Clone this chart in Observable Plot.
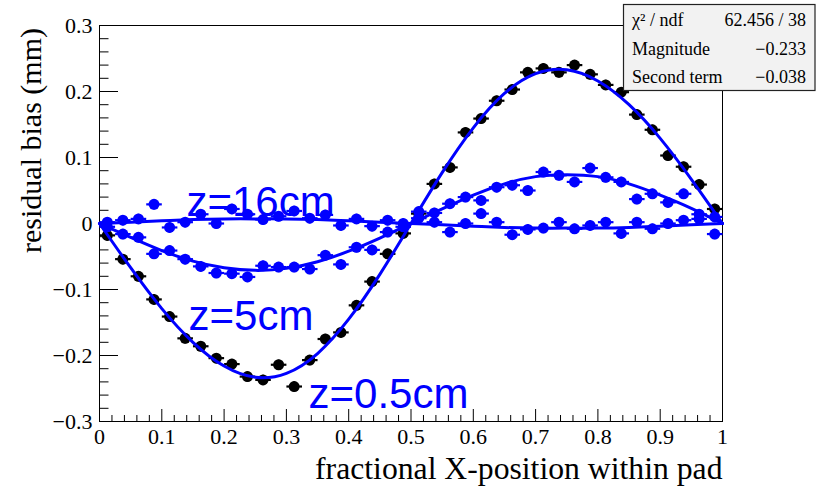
<!DOCTYPE html>
<html><head><meta charset="utf-8">
<script src="https://cdn.jsdelivr.net/npm/d3@7"></script>
<script src="https://cdn.jsdelivr.net/npm/@observablehq/plot@0.6"></script>
<style>body{margin:0;background:#fff;}</style>
</head><body><div id="chart"></div>
<script>
// ---- data ----
const binX = [0.0125,0.0375,0.0625,0.0875,0.1125,0.1375,0.1625,0.1875,0.2125,0.2375,
  0.2625,0.2875,0.3125,0.3375,0.3625,0.3875,0.4125,0.4375,0.4625,0.4875,
  0.5125,0.5375,0.5625,0.5875,0.6125,0.6375,0.6625,0.6875,0.7125,0.7375,
  0.7625,0.7875,0.8125,0.8375,0.8625,0.8875,0.9125,0.9375,0.9625,0.9875];
const biasZ05 = [-0.018,-0.054,-0.080,-0.115,-0.141,-0.174,-0.186,-0.204,-0.213,-0.232,
  -0.237,-0.214,-0.247,-0.207,-0.175,-0.165,-0.124,-0.088,-0.046,-0.015,
  0.015,0.060,0.085,0.138,0.159,0.186,0.203,0.229,0.235,0.229,
  0.240,0.226,0.210,0.199,0.165,0.142,0.103,0.086,0.059,0.022];
const biasZ5 = [-0.005,-0.016,-0.021,-0.046,-0.041,-0.054,-0.065,-0.075,-0.076,-0.081,
  -0.064,-0.066,-0.066,-0.069,-0.048,-0.062,-0.036,-0.040,-0.013,-0.005,
  0.018,0.016,0.030,0.040,0.035,0.055,0.058,0.050,0.078,0.073,
  0.063,0.084,0.070,0.063,0.037,0.045,0.032,0.045,0.014,0.010];
const biasZ16 = [0.002,0.005,0.007,0.029,-0.006,0.002,0.014,0.000,0.022,0.014,
  0.006,0.011,0.019,0.008,0.013,-0.003,0.007,-0.004,0.005,0.000,
  0.008,0.002,-0.013,0.000,0.015,0.002,-0.017,-0.009,-0.007,0.002,
  -0.008,-0.003,0.002,-0.015,0.002,-0.008,0.000,0.005,0.007,-0.016];
const fitX = [0,0.05,0.1,0.15,0.2,0.25,0.3,0.35,0.4,0.45,0.5,0.55,0.6,0.65,0.7,0.75,0.8,0.85,0.9,0.95,1];
const fitZ05 = [0,-0.067,-0.129,-0.180,-0.216,-0.233,-0.227,-0.197,-0.145,-0.077,0,0.077,0.145,0.197,0.227,0.233,0.216,0.180,0.129,0.067,0];
const fitZ5 = [0,-0.021,-0.041,-0.057,-0.067,-0.071,-0.068,-0.058,-0.042,-0.022,0,0.022,0.043,0.060,0.071,0.074,0.071,0.060,0.043,0.023,0];
const fitZ16 = [0,0.002,0.004,0.006,0.007,0.007,0.007,0.006,0.004,0.002,0,-0.002,-0.004,-0.006,-0.007,-0.007,-0.007,-0.006,-0.004,-0.002,0];
const xTickValues = [0,0.1,0.2,0.3,0.4,0.5,0.6,0.7,0.8,0.9,1];
const xTickLabels = ["0","0.1","0.2","0.3","0.4","0.5","0.6","0.7","0.8","0.9","1"];
const yTickValues = [-0.3,-0.2,-0.1,0,0.1,0.2,0.3];
const yTickLabels = ["\u22120.3","\u22120.2","\u22120.1","0","0.1","0.2","0.3"];
const seriesNames = ["z=0.5cm","z=5cm","z=16cm"];
const statNames = ["\u03C7\u00B2 / ndf","Magnitude","Second term"];
const statValues = ["62.456 / 38","\u22120.233","\u22120.038"];
const xTitle = "fractional X-position within pad";
const yTitle = "residual bias (mm)";

// ---- layout / style ----
const W = 816, H = 491, mL = 99, mR = 94, mT = 25, mB = 70;
const fw = W - mL - mR, fh = H - mT - mB;
const xPx = 1 / fw, yPx = 0.6 / fh;
const halfBin = 0.0125, yErr = 0.0078;
const BLUE = "#0000ff";
const colors = ["#000000", BLUE, BLUE];
const labelAnchors = [{x: 0.3355, y: -0.279}, {x: 0.143, y: -0.162}, {x: 0.1396, y: 0.012}];
const SERIF = "'Liberation Serif', 'Times New Roman', serif";

const allSeries = [biasZ05, biasZ5, biasZ16];
const points = [];
allSeries.forEach((vals, s) => vals.forEach((v, i) => points.push({s, x: binX[i], y: v})));
const fits = [fitZ05, fitZ5, fitZ16];
const fitRows = [];
fits.forEach((vals, s) => vals.forEach((v, i) => fitRows.push({s, x: fitX[i], y: v})));
const labels = seriesNames.map((n, i) => ({n, s: i, ...labelAnchors[i]}));

const xMinor = d3.range(0, 1.0001, 0.02).filter(v => Math.abs(v*10 - Math.round(v*10)) > 1e-6);
const yMinor = d3.range(-0.3, 0.3001, 0.02).filter(v => Math.abs(v*10 - Math.round(v*10)) > 1e-6);
const xLab = new Map(xTickValues.map((v, i) => [v, xTickLabels[i]]));
const yLab = new Map(yTickValues.map((v, i) => [v, yTickLabels[i]]));

const svg = Plot.plot({
  width: W, height: H, marginLeft: mL, marginRight: mR, marginTop: mT, marginBottom: mB,
  x: {domain: [0, 1]}, y: {domain: [-0.3, 0.3]},
  style: {fontFamily: SERIF, background: "#fff", color: "#000"},
  marks: [
    Plot.ruleX(xTickValues, {x: d => d, y1: -0.3, y2: -0.3 + 12 * yPx, stroke: "#000"}),
    Plot.ruleX(xMinor, {x: d => d, y1: -0.3, y2: -0.3 + 6 * yPx, stroke: "#000"}),
    Plot.ruleY(yTickValues, {y: d => d, x1: 0, x2: 19 * xPx, stroke: "#000"}),
    Plot.ruleY(yMinor, {y: d => d, x1: 0, x2: 9.5 * xPx, stroke: "#000"}),
    Plot.frame({stroke: "#000", strokeWidth: 1}),
    Plot.axisX(xTickValues, {tickSize: 0, tickPadding: 7, fontSize: 22, label: null, tickFormat: d => xLab.get(d)}),
    Plot.axisY(yTickValues, {tickSize: 0, tickPadding: 7, fontSize: 22, label: null, tickFormat: d => yLab.get(d)}),
    Plot.text([xTitle], {frameAnchor: "bottom-right", dy: 57, textAnchor: "end", lineAnchor: "bottom", fontSize: 31.7}),
    Plot.link(points, {x1: d => d.x - halfBin, x2: d => d.x + halfBin, y1: "y", y2: "y", stroke: d => colors[d.s], strokeWidth: 2.2}),
    Plot.link(points, {x1: "x", x2: "x", y1: d => d.y - yErr, y2: d => d.y + yErr, stroke: d => colors[d.s], strokeWidth: 2.2}),
    Plot.dot(points, {x: "x", y: "y", r: 5.5, fill: d => colors[d.s], stroke: "none"}),
    Plot.line(fitRows, {x: "x", y: "y", z: "s", stroke: BLUE, strokeWidth: 3, curve: "natural"}),
    Plot.text(labels, {x: "x", y: "y", text: "n", fill: BLUE, fontSize: 42, textAnchor: "start", lineAnchor: "bottom",
      fontFamily: "'Liberation Sans', Arial, sans-serif"})
  ]
});
document.getElementById("chart").appendChild(svg);

// y-axis title (ROOT style: right-aligned at the top of the axis)
d3.select(svg).append("text")
  .attr("transform", "translate(41,28) rotate(-90)")
  .attr("text-anchor", "end")
  .style("font-family", SERIF).style("font-size", "30px").attr("fill", "#000")
  .text(yTitle);

// stat box (ROOT-style) overlaid on the SVG
const g = d3.select(svg).append("g").style("font-family", SERIF).style("font-size", "18px");
g.append("rect").attr("x", 623.5).attr("y", 4.5).attr("width", 191.5).attr("height", 86)
  .attr("fill", "#f2f2f2").attr("stroke", "#222").attr("stroke-width", 1.2);
const baselines = [26, 55, 83];
statNames.forEach((t, i) => {
  g.append("text").attr("x", 632).attr("y", baselines[i]).attr("text-anchor", "start").attr("fill", "#000").text(t);
  g.append("text").attr("x", 806).attr("y", baselines[i]).attr("text-anchor", "end").attr("fill", "#000").text(statValues[i]);
});
</script>
</body></html>
